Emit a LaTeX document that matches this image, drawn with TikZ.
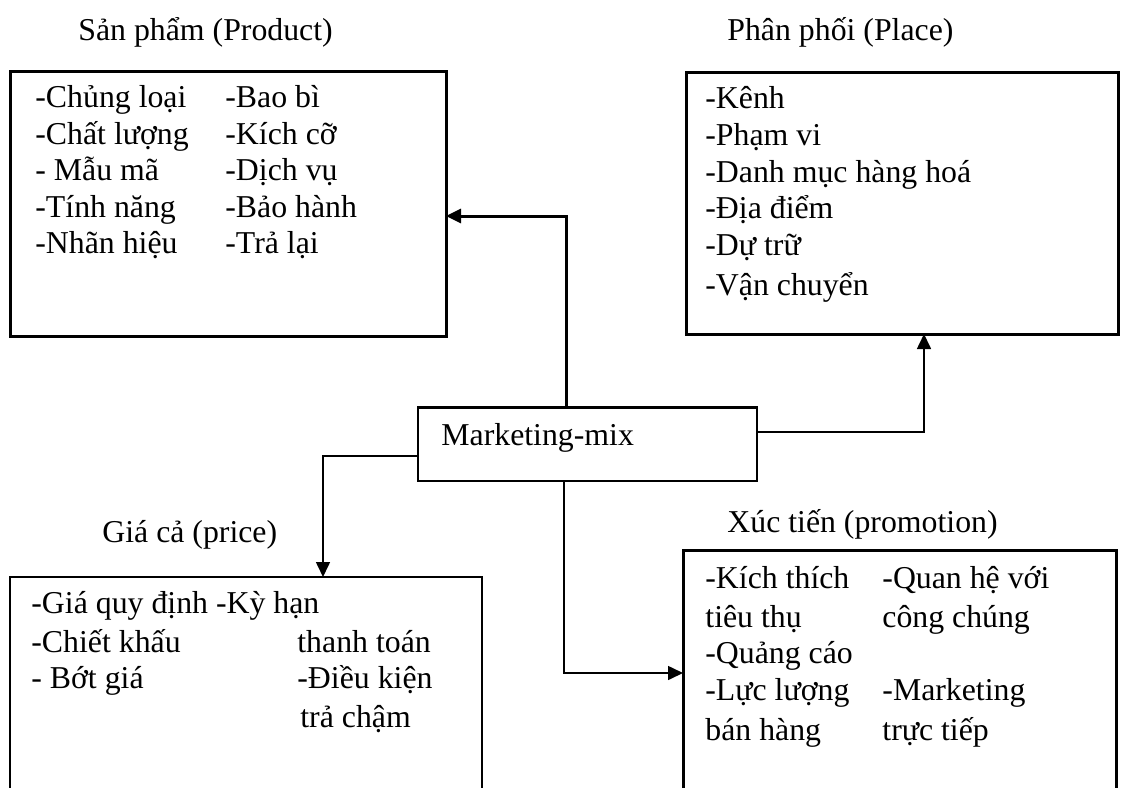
\documentclass[tikz,border=0pt]{standalone}
\usepackage{fontspec}
\setmainfont{Liberation Serif}
\usetikzlibrary{arrows.meta,fit}
\begin{document}
\begin{tikzpicture}[x=0.5pt,y=-0.5pt,
  heavy/.style={line width=1.5pt},
  light/.style={line width=0.8pt},
  box/.style={draw,inner sep=0pt,outer sep=0pt},
  txt/.style={anchor=base west,inner sep=0pt,font=\fontsize{15.9pt}{18pt}\selectfont},
  tip/.style={-{Triangle[length=7.5pt,width=7pt]}}]
\useasboundingbox (0,0) rectangle (1124,787);
\clip (0,0) rectangle (1124,787);

% boxes
\node[box,heavy,fit={(10,71)(446,336)}] (product) {};
\node[box,heavy,fit={(686,72)(1118,334)}] (place) {};
\node[box,light,fit={(418,407)(757,481)}] (mm) {};
\draw[heavy] (mm.north west) -- (mm.north east);
\node[box,light,fit={(10,577)(482,820)}] (price) {};
\node[box,heavy,fit={(683,550)(1116,820)}] (promo) {};

% titles
\node[txt] (tprod) at (78,40) {Sản phẩm (Product)};
\node[txt] (tplace) at (727,40) {Phân phối (Place)};
\node[txt] (tprice) at (102,542) {Giá cả (price)};
\node[txt] (tpromo) at (727,532) {Xúc tiến (promotion)};
\node[txt] (tmm) at (441,445) {Marketing-mix};

% product items
\node[txt] (p1) at (35,107) {-Chủng loại};
\node[txt] (p2) at (35,144) {-Chất lượng};
\node[txt] (p3) at (35,180) {- Mẫu mã};
\node[txt] (p4) at (35,217) {-Tính năng};
\node[txt] (p5) at (35,253) {-Nhãn hiệu};
\node[txt] (p6) at (225,107) {-Bao bì};
\node[txt] (p7) at (225,144) {-Kích cỡ};
\node[txt] (p8) at (225,180) {-Dịch vụ};
\node[txt] (p9) at (225,217) {-Bảo hành};
\node[txt] (p10) at (225,253) {-Trả lại};

% place items
\node[txt] (d1) at (705,108) {-Kênh};
\node[txt] (d2) at (705,145) {-Phạm vi};
\node[txt] (d3) at (705,182) {-Danh mục hàng hoá};
\node[txt] (d4) at (705,218) {-Địa điểm};
\node[txt] (d5) at (705,255) {-Dự trữ};
\node[txt] (d6) at (705,295) {-Vận chuyển};

% price items
\node[txt] (g1) at (31,613) {-Giá quy định -Kỳ hạn};
\node[txt] (g2) at (31,652) {-Chiết khấu};
\node[txt] (g3) at (31,688) {- Bớt giá};
\node[txt] (g4) at (297,652) {thanh toán};
\node[txt] (g5) at (297,688) {-Điều kiện};
\node[txt] (g6) at (300,727) {trả chậm};

% promotion items
\node[txt] (x1) at (705,588) {-Kích thích};
\node[txt] (x2) at (705,627) {tiêu thụ};
\node[txt] (x3) at (705,663) {-Quảng cáo};
\node[txt] (x4) at (705,700) {-Lực lượng};
\node[txt] (x5) at (705,740) {bán hàng};
\node[txt] (x6) at (882,588) {-Quan hệ với};
\node[txt] (x7) at (882,627) {công chúng};
\node[txt] (x8) at (882,700) {-Marketing};
\node[txt] (x9) at (882,740) {trực tiếp};

% connectors
\coordinate (cprod) at (566,216);
\coordinate (cplace) at (924,432);
\coordinate (cprice) at (323,456);
\coordinate (cpromo) at (564,673);
\draw[heavy,tip] (mm.north -| cprod) |- (product.east |- cprod);
\draw[light,tip] (mm.east |- cplace) -| (place.south -| cplace);
\draw[light,tip] (mm.west |- cprice) -| (price.north -| cprice);
\draw[light,tip] (mm.south -| cpromo) |- (promo.west |- cpromo);
\end{tikzpicture}
\end{document}
